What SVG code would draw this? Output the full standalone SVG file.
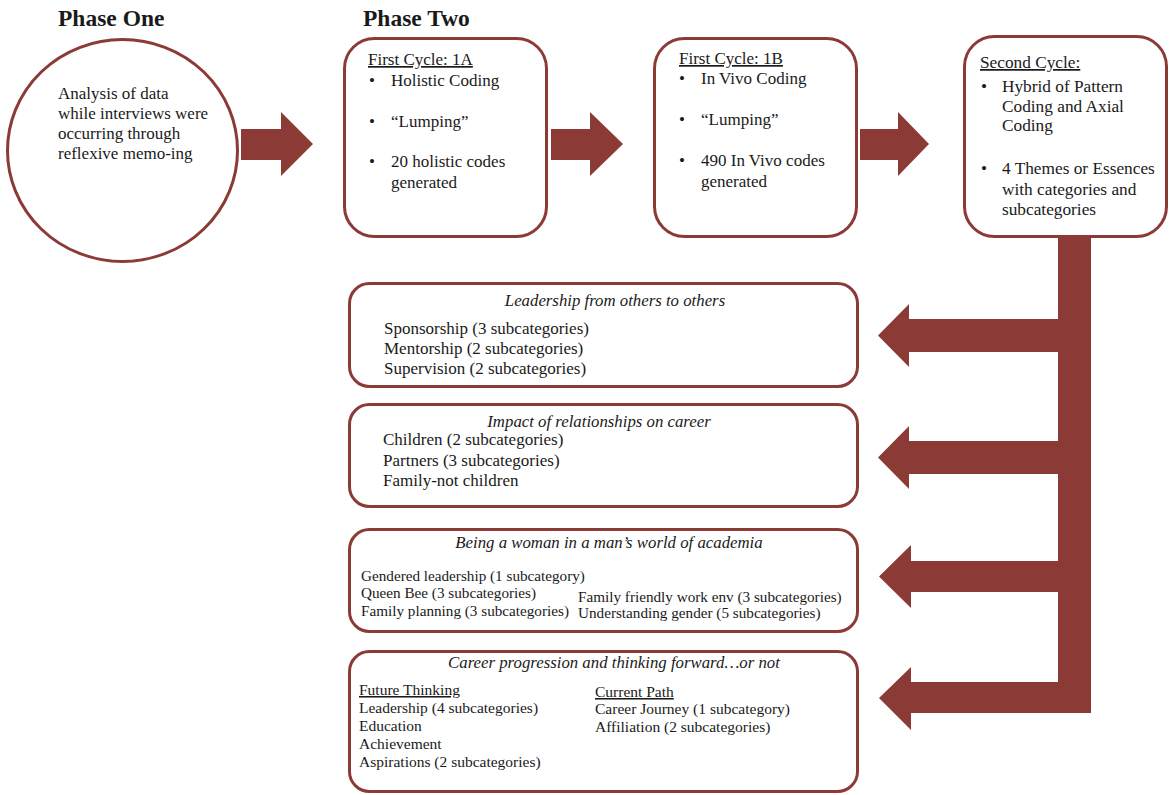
<svg xmlns="http://www.w3.org/2000/svg" width="1170" height="795" viewBox="0 0 1170 795">
<style>
.t{font-family:"Liberation Serif","Times New Roman",serif;fill:#1a1a1a;font-size:17px}
.h{font-family:"Liberation Serif","Times New Roman",serif;fill:#1a1a1a;font-size:23.5px;font-weight:bold}
.i{font-style:italic;text-anchor:middle;font-size:16.8px}
.s3{font-size:15.2px}
.s4{font-size:15.5px}
.u{text-decoration:underline}
.box{fill:#fff;stroke:#8B3A35;stroke-width:3}
.arr{fill:#8B3A35}
</style>
<rect width="1170" height="795" fill="#fff"/>
<text class="h" x="58" y="26">Phase One</text>
<text class="h" x="363" y="26">Phase Two</text>

<g id="phase-one">
<ellipse class="box" cx="122.5" cy="150.5" rx="115" ry="111"/>
<text class="t" x="58" y="99">Analysis of data</text>
<text class="t" x="58" y="119">while interviews were</text>
<text class="t" x="58" y="139">occurring through</text>
<text class="t" x="58" y="159">reflexive memo-ing</text>
</g>

<g id="cycle-1a">
<rect class="box" x="344.5" y="38.5" width="202" height="198" rx="30"/>
<text class="t u" x="368" y="65">First Cycle: 1A</text>
<text class="t" x="369" y="86">•</text><text class="t" x="391" y="86">Holistic Coding</text>
<text class="t" x="369" y="127">•</text><text class="t" x="391" y="127">“Lumping”</text>
<text class="t" x="369" y="167">•</text><text class="t" x="391" y="167">20 holistic codes</text>
<text class="t" x="391" y="188">generated</text>
</g>

<g id="cycle-1b">
<rect class="box" x="654.5" y="38.5" width="202" height="198" rx="30"/>
<text class="t u" x="679" y="64">First Cycle: 1B</text>
<text class="t" x="679" y="84">•</text><text class="t" x="701" y="84">In Vivo Coding</text>
<text class="t" x="679" y="125">•</text><text class="t" x="701" y="125">“Lumping”</text>
<text class="t" x="679" y="166">•</text><text class="t" x="701" y="166">490 In Vivo codes</text>
<text class="t" x="701" y="187">generated</text>
</g>

<g id="second-cycle">
<rect class="box" x="964.5" y="36.5" width="202" height="200" rx="30"/>
<text class="t u" x="980" y="68" style="font-size:17.3px">Second Cycle:</text>
<text class="t" x="981" y="92" style="font-size:17.3px">•</text>
<text class="t" x="1002" y="92" style="font-size:17.3px">Hybrid of Pattern</text>
<text class="t" x="1002" y="112" style="font-size:17.3px">Coding and Axial</text>
<text class="t" x="1002" y="131" style="font-size:17.3px">Coding</text>
<text class="t" x="981" y="174" style="font-size:17.3px">•</text>
<text class="t" x="1002" y="174" style="font-size:17.3px">4 Themes or Essences</text>
<text class="t" x="1002" y="195" style="font-size:17.3px">with categories and</text>
<text class="t" x="1002" y="215" style="font-size:17.3px">subcategories</text>
</g>

<g id="theme-1">
<rect class="box" x="349.5" y="283.5" width="508" height="103" rx="20"/>
<text class="t i" x="615" y="306">Leadership from others to others</text>
<text class="t" x="384" y="334">Sponsorship (3 subcategories)</text>
<text class="t" x="384" y="354">Mentorship (2 subcategories)</text>
<text class="t" x="384" y="374">Supervision (2 subcategories)</text>
</g>

<g id="theme-2">
<rect class="box" x="349.5" y="404.5" width="508" height="102" rx="20"/>
<text class="t i" x="599" y="427">Impact of relationships on career</text>
<text class="t" x="383" y="445">Children (2 subcategories)</text>
<text class="t" x="383" y="466">Partners (3 subcategories)</text>
<text class="t" x="383" y="486">Family-not children</text>
</g>

<g id="theme-3">
<rect class="box" x="349.5" y="529.5" width="508" height="102" rx="20"/>
<text class="t i" x="609" y="548">Being a woman in a man’s world of academia</text>
<text class="t s3" x="361" y="581">Gendered leadership (1 subcategory)</text>
<text class="t s3" x="361" y="598">Queen Bee (3 subcategories)</text>
<text class="t s3" x="361" y="616">Family planning (3 subcategories)</text>
<text class="t s3" x="578" y="602">Family friendly work env (3 subcategories)</text>
<text class="t s3" x="578" y="618">Understanding gender (5 subcategories)</text>
</g>

<g id="theme-4">
<rect class="box" x="349.5" y="651.5" width="508" height="140" rx="20"/>
<text class="t i" x="614" y="668">Career progression and thinking forward…or not</text>
<text class="t s4 u" x="359" y="695">Future Thinking</text>
<text class="t s4" x="359" y="713">Leadership (4 subcategories)</text>
<text class="t s4" x="359" y="731">Education</text>
<text class="t s4" x="359" y="749">Achievement</text>
<text class="t s4" x="359" y="767">Aspirations (2 subcategories)</text>
<text class="t s4 u" x="595" y="697">Current Path</text>
<text class="t s4" x="595" y="714">Career Journey (1 subcategory)</text>
<text class="t s4" x="595" y="732">Affiliation (2 subcategories)</text>
</g>

<g id="connectors">
<polygon class="arr" points="241,129 281,129 281,112 313,144 281,176 281,160 241,160"/>
<polygon class="arr" points="551,129 590,129 590,112 623,144 590,176 590,160 551,160"/>
<polygon class="arr" points="860,129 898,129 898,112 929,144 898,176 898,160 860,160"/>
<rect class="arr" x="1058" y="237" width="33" height="476"/>
<polygon class="arr" points="1060,319 909,319 909,304 878,335.5 909,367 909,352 1060,352"/>
<polygon class="arr" points="1060,441 909,441 909,426 878,457.5 909,489 909,474 1060,474"/>
<polygon class="arr" points="1060,561 911,561 911,545 879,576.5 911,608 911,592 1060,592"/>
<polygon class="arr" points="1060,682 911,682 911,667 879,698 911,730 911,713 1060,713"/>
</g>
</svg>
